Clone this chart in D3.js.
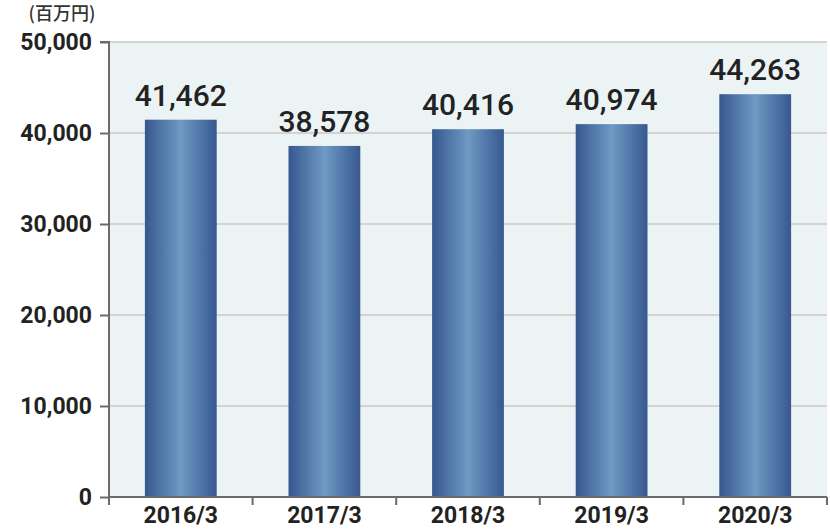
<!DOCTYPE html>
<html>
<head>
<meta charset="utf-8">
<script src="https://cdn.jsdelivr.net/npm/d3@7"></script>
<style>
  html, body { margin: 0; padding: 0; background: #ffffff; }
  svg { display: block; font-family: Roboto, "Noto Sans", sans-serif; }
</style>
</head>
<body>
<svg id="chart" width="830" height="530"></svg>
<script>
const categories = ["2016/3", "2017/3", "2018/3", "2019/3", "2020/3"];
const values = [41462, 38578, 40416, 40974, 44263];
const yTicks = [0, 10000, 20000, 30000, 40000, 50000];
const unitLabel = "(百万円)";

const svg = d3.select("#chart");
const margin = { left: 109, right: 3, top: 42, bottom: 33 };
const W = 830, H = 530;

const x = d3.scaleBand().domain(categories).range([margin.left, W - margin.right]).paddingInner(0.5).paddingOuter(0.25);
const xEdges = d3.scaleBand().domain(categories).range([margin.left, W - margin.right]).padding(0);
const y = d3.scaleLinear().domain([0, 50000]).range([H - margin.bottom, margin.top]);

// gradient
const defs = svg.append("defs");
const grad = defs.append("linearGradient").attr("id", "barGrad").attr("x1", "0%").attr("x2", "100%").attr("y1", "0%").attr("y2", "0%");
grad.append("stop").attr("offset", "0%").attr("stop-color", "#37578f");
grad.append("stop").attr("offset", "50%").attr("stop-color", "#6e9ac3");
grad.append("stop").attr("offset", "100%").attr("stop-color", "#375890");

// plot background
svg.append("rect")
  .attr("x", margin.left).attr("y", y(50000))
  .attr("width", W - margin.right - margin.left)
  .attr("height", y(0) - y(50000))
  .attr("fill", "#ebf3f5");

// gridlines
svg.append("g").selectAll("line").data(yTicks.filter(d => d > 0)).join("line")
  .attr("x1", margin.left).attr("x2", W - margin.right)
  .attr("y1", d => y(d)).attr("y2", d => y(d))
  .attr("stroke", "#d3d3d3").attr("stroke-width", 2);

// bars
svg.append("g").selectAll("rect").data(values).join("rect")
  .attr("x", (d, i) => x(categories[i]))
  .attr("width", x.bandwidth())
  .attr("y", d => y(d))
  .attr("height", d => y(0) - y(d))
  .attr("fill", "url(#barGrad)");

// value labels
svg.append("g").selectAll("text").data(values).join("text")
  .attr("x", (d, i) => x(categories[i]) + x.bandwidth() / 2)
  .attr("y", d => y(d) - 14)
  .attr("text-anchor", "middle")
  .attr("font-size", 30).attr("font-weight", 500)
  .attr("fill", "#222")
  .text(d => d3.format(",")(d));

// y axis
const yAxis = d3.axisLeft(y).tickValues(yTicks).tickFormat(d3.format(",")).tickSize(9).tickPadding(8);
const gy = svg.append("g").attr("transform", `translate(${margin.left},0)`).call(yAxis);
gy.select(".domain").attr("stroke", "#6b6b6b").attr("stroke-width", 2)
  .attr("d", `M-9,${y(50000)}H0V${y(0) + 8}`);
gy.selectAll(".tick line").attr("stroke", "#6b6b6b").attr("stroke-width", 2);
gy.selectAll(".tick text").attr("font-size", 23).attr("font-weight", 700).attr("fill", "#222")
  .attr("font-family", "Roboto, sans-serif");

// x axis
const gx = svg.append("g").attr("transform", `translate(0,${y(0)})`);
gx.append("line").attr("x1", margin.left).attr("x2", W - margin.right)
  .attr("y1", 0).attr("y2", 0).attr("stroke", "#6b6b6b").attr("stroke-width", 2);
const edges = categories.map(c => xEdges(c)).concat([W - margin.right]);
gx.selectAll("line.edge").data(edges).join("line").attr("class", "edge")
  .attr("x1", d => d).attr("x2", d => d).attr("y1", 0).attr("y2", 8)
  .attr("stroke", "#6b6b6b").attr("stroke-width", 2);
gx.selectAll("text").data(categories).join("text")
  .attr("x", d => xEdges(d) + xEdges.bandwidth() / 2)
  .attr("y", 26)
  .attr("text-anchor", "middle")
  .attr("font-size", 23).attr("font-weight", 700).attr("fill", "#222")
  .text(d => d);

// unit label
svg.append("text").attr("x", 62).attr("y", 20).attr("text-anchor", "middle")
  .attr("font-family", "'Noto Sans CJK JP', sans-serif")
  .attr("font-size", 18).attr("font-weight", 500).attr("fill", "#333")
  .text(unitLabel);
</script>
</body>
</html>
